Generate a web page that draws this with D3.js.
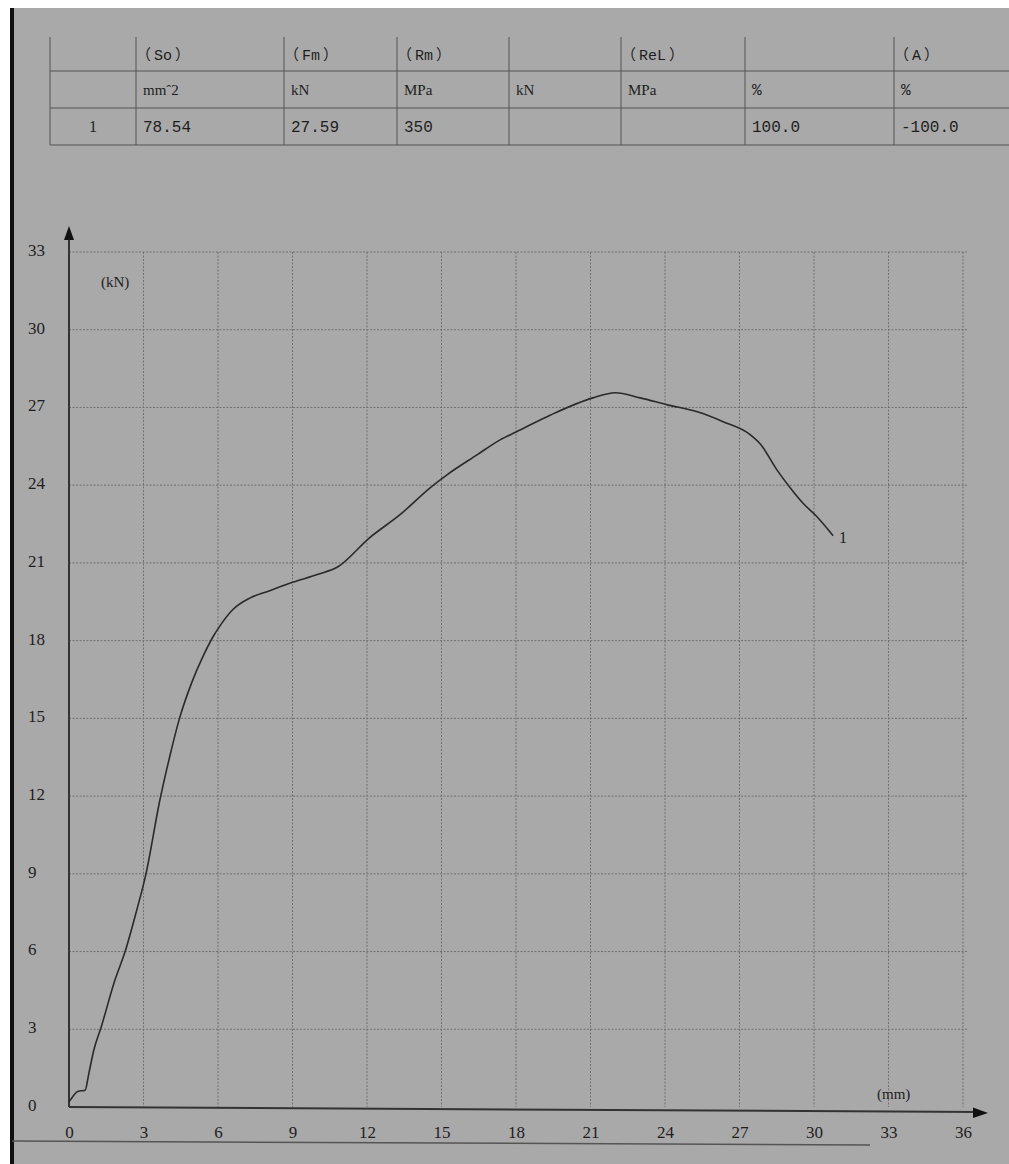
<!DOCTYPE html>
<html><head><meta charset="utf-8">
<script src="https://cdn.jsdelivr.net/npm/d3@7"></script>
<style>html,body{margin:0;padding:0;background:#fff;}svg{display:block;}</style>
</head><body>
<svg id="c" width="1009" height="1164"></svg>
<script>
// ---- data ----
const tableHeaders = ["", "（So）", "（Fm）", "（Rm）", "", "（ReL）", "", "（A）"];
const tableUnits   = ["", "mmˆ2", "kN", "MPa", "kN", "MPa", "%", "%"];
const tableValues  = ["1", "78.54", "27.59", "350", "", "", "100.0", "-100.0"];
const xTicks = [0, 3, 6, 9, 12, 15, 18, 21, 24, 27, 30, 33, 36];
const yTicks = [0, 3, 6, 9, 12, 15, 18, 21, 24, 27, 30, 33];
const curveX = [0, 0.15, 0.35, 0.65, 0.8, 1.0, 1.3, 1.85, 2.26, 2.7, 3.1, 3.65, 4.05, 4.45, 4.95, 5.4, 5.8, 6.1, 6.6, 7.3, 8.0, 9.0, 10.0, 10.83, 12.1, 13.33, 14.54, 15.22, 16.43, 17.36, 18.0, 19.37, 21.1, 21.99, 23.0, 24.1, 25.3, 26.34, 27.43, 27.83, 28.5, 29.04, 29.56, 30.1, 30.77];
const curveY = [0.2, 0.4, 0.6, 0.65, 1.3, 2.2, 3.1, 4.9, 6.0, 7.5, 9.0, 11.8, 13.5, 15.0, 16.4, 17.4, 18.15, 18.6, 19.2, 19.65, 19.9, 20.25, 20.55, 20.85, 21.97, 22.86, 23.9, 24.4, 25.17, 25.75, 26.05, 26.7, 27.37, 27.57, 27.37, 27.1, 26.83, 26.45, 25.95, 25.6, 24.6, 23.9, 23.3, 22.8, 22.05];
const seriesLabel = "1";
const xUnit = "(mm)", yUnit = "(kN)";

// ---- drawing ----
const svg = d3.select("#c");
const bg = "#a9a9a9", ink = "#1e1e1e";
svg.append("rect").attr("width", 1009).attr("height", 1164).attr("fill", bg);
svg.append("rect").attr("width", 1009).attr("height", 8).attr("fill", "#fff");
svg.append("rect").attr("width", 10).attr("height", 1164).attr("fill", "#fff");
svg.append("rect").attr("x", 10).attr("y", 8).attr("width", 4).attr("height", 1156).attr("fill", "#111");

// table
const colEdges = [50, 136, 284, 397, 509, 621, 745, 894, 1009];
const rowEdges = [37, 71, 108, 145];
const mono = "'Liberation Mono', monospace";
const cjk = "'Noto Sans CJK SC', sans-serif";
const tg = svg.append("g").attr("font-family", mono).attr("font-size", 16).attr("fill", ink);
colEdges.slice(0, -1).forEach(x => tg.append("line").attr("x1", x).attr("x2", x).attr("y1", rowEdges[0]).attr("y2", rowEdges[3]).attr("stroke", "#555").attr("stroke-width", 1));
rowEdges.slice(1).forEach(y => tg.append("line").attr("x1", colEdges[0]).attr("x2", 1009).attr("y1", y).attr("y2", y).attr("stroke", "#555").attr("stroke-width", 1.2));
[tableHeaders, tableUnits, tableValues].forEach((row, ri) => {
  row.forEach((t, ci) => {
    if (!t) return;
    const yc = (rowEdges[ri] + rowEdges[ri + 1]) / 2;
    const txt = tg.append("text").attr("y", yc).attr("dy", "0.35em");
    if (ri === 0) {
      // split full-width parentheses so they render wide like the original
      t.split(/([（）])/).filter(s => s).forEach(s => {
        const isP = /[（）]/.test(s);
        txt.append("tspan").attr("font-family", isP ? cjk : mono).attr("font-size", 15)
          .attr("dx", s === "（" ? 0 : 3).text(s);
      });
    } else {
      txt.text(t);
    }
    if (ri === 1 && !/%/.test(t)) txt.attr("font-family", "'Liberation Serif', serif").attr("font-size", 15);
    if (ri === 2 && ci === 0) txt.attr("x", (colEdges[0] + colEdges[1]) / 2).attr("text-anchor", "middle").attr("font-family", "'Liberation Serif', serif");
    else txt.attr("x", colEdges[ci] + (ri === 0 ? 0 : 7));
  });
});

// scales
const x = d3.scaleLinear().domain([0, 36]).range([69, 963]);
const y = d3.scaleLinear().domain([0, 33]).range([1107, 252]);

// grid
const gg = svg.append("g").attr("stroke", "#5a5a5a").attr("stroke-width", 1).attr("stroke-dasharray", "2,1.5").attr("opacity", 0.7);
xTicks.slice(1).forEach(v => gg.append("line").attr("x1", x(v)).attr("x2", x(v)).attr("y1", y(33)).attr("y2", y(0)));
yTicks.slice(1).forEach(v => gg.append("line").attr("x1", x(0)).attr("x2", x(36) + 4).attr("y1", y(v)).attr("y2", y(v)));

// axes
const font = "'Liberation Serif', 'DejaVu Serif', serif";
const xa = svg.append("g").attr("transform", `translate(0,${y(0)})`)
  .call(d3.axisBottom(x).tickValues(xTicks).tickSize(0).tickPadding(19).tickFormat(d3.format("d")));
xa.select(".domain").remove();
xa.selectAll("text").attr("font-family", font).attr("font-size", 17).attr("fill", ink);
const ya = svg.append("g").attr("transform", `translate(${x(0)},0)`)
  .call(d3.axisLeft(y).tickValues(yTicks).tickSize(0).tickFormat(d3.format("d")));
ya.select(".domain").remove();
ya.selectAll("text").attr("font-family", font).attr("font-size", 17).attr("fill", ink)
  .attr("text-anchor", "start").attr("x", 28 - x(0)).attr("dy", "0.2em");

// axis lines with arrows
svg.append("line").attr("x1", x(0)).attr("x2", x(0)).attr("y1", y(0)).attr("y2", 234).attr("stroke", "#333").attr("stroke-width", 2);
svg.append("path").attr("d", `M${x(0)},226 L${x(0) - 5},240 L${x(0) + 5},240 Z`).attr("fill", "#111");
svg.append("line").attr("x1", x(0)).attr("x2", 980).attr("y1", y(0)).attr("y2", y(0) + 5).attr("stroke", "#333").attr("stroke-width", 2);
svg.append("path").attr("d", `M988,${y(0) + 6} L973,${y(0) + 0.5} L973,${y(0) + 11} Z`).attr("fill", "#111");
// scan edge line below tick labels
svg.append("line").attr("x1", 12).attr("x2", 870).attr("y1", 1141).attr("y2", 1145).attr("stroke", "#555").attr("stroke-width", 1.5);

// unit labels
svg.append("text").attr("x", 101).attr("y", 282).attr("dy", "0.35em").attr("font-family", font).attr("font-size", 15).attr("fill", ink).text(yUnit);
svg.append("text").attr("x", 877).attr("y", 1094).attr("dy", "0.35em").attr("font-family", font).attr("font-size", 15).attr("fill", ink).text(xUnit);

// curve
const pts = curveX.map((d, i) => [d, curveY[i]]);
const line = d3.line().x(d => x(d[0])).y(d => y(d[1])).curve(d3.curveMonotoneX);
svg.append("path").datum(pts).attr("d", line).attr("fill", "none").attr("stroke", "#2a2a2a").attr("stroke-width", 1.6);
const last = pts[pts.length - 1];
svg.append("text").attr("x", x(last[0]) + 6).attr("y", y(last[1]) + 2).attr("dy", "0.35em").attr("font-family", font).attr("font-size", 16).attr("fill", ink).text(seriesLabel);
</script>
</body></html>
